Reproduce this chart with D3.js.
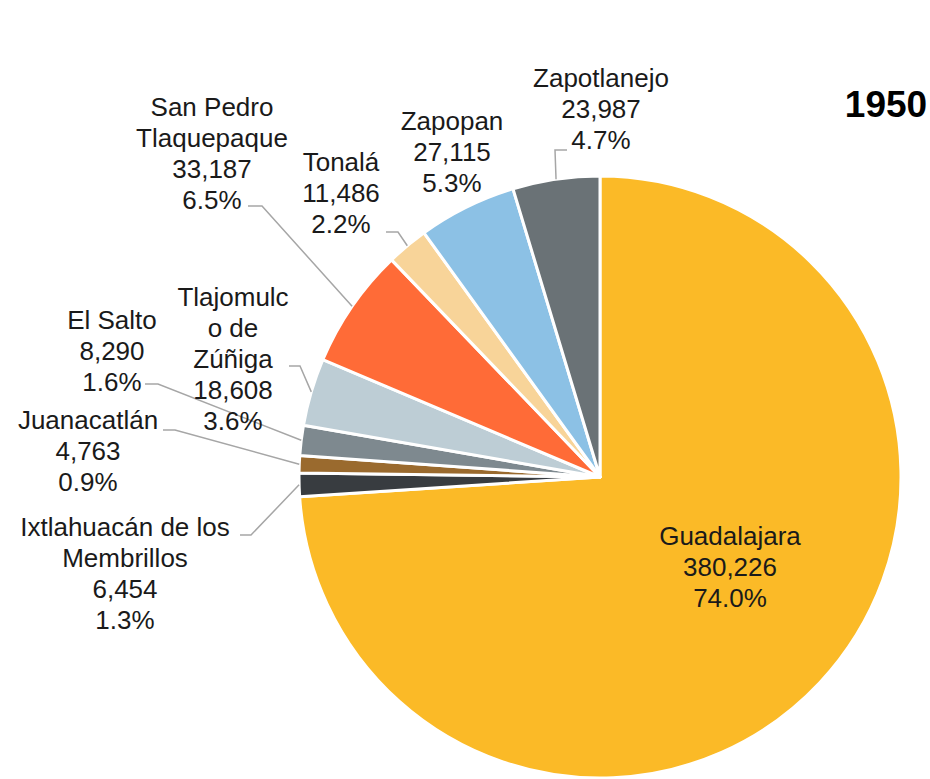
<!DOCTYPE html>
<html><head><meta charset="utf-8">
<script src="https://cdn.jsdelivr.net/npm/d3@7"></script>
<style>body{margin:0;background:#fff}svg{display:block}</style>
</head><body>
<svg id="c" width="930" height="779"></svg>
<script>
const names = ["Guadalajara","Ixtlahuacán de los Membrillos","Juanacatlán","El Salto","Tlajomulco de Zúñiga","San Pedro Tlaquepaque","Tonalá","Zapopan","Zapotlanejo"];
const values = [380226, 6454, 4763, 8290, 18608, 33187, 11486, 27115, 23987];
const percents = ["74.0%","1.3%","0.9%","1.6%","3.6%","6.5%","2.2%","5.3%","4.7%"];
const valueLabels = ["380,226","6,454","4,763","8,290","18,608","33,187","11,486","27,115","23,987"];
const title = "1950";

// layout (not data)
const colors = ["#FBBA27","#383C40","#9A6A2E","#7E898F","#BDCDD5","#FF6B37","#F8D499","#8CC1E5","#6A7276"];
const nameLines = [["Guadalajara"],["Ixtlahuacán de los","Membrillos"],["Juanacatlán"],["El Salto"],["Tlajomulc","o de","Zúñiga"],["San Pedro","Tlaquepaque"],["Tonalá"],["Zapopan"],["Zapotlanejo"]];
const labelPos = [[730,536],[125,527],[88,420],[112,320],[233,297],[212,107],[341,162],[452,121],[601,78]];
// leader start points (label side): [x0,y,x1] horizontal from x0 to x1 at y
const leaderStart = [null,[240,535,251],[163,430,175],[145,384,158],[289,366,300],[248,206,262],[386,232,398],null,[567,150,555]];

const cx = 600, cy = 477, R = 301;
const svg = d3.select("#c");
const g = svg.append("g").attr("transform", `translate(${cx},${cy})`);
const pie = d3.pie().sort(null).value(d => d)(values);
const arc = d3.arc().innerRadius(0).outerRadius(R);

g.selectAll("path.s").data(pie).join("path")
  .attr("class","s")
  .attr("d", arc)
  .attr("fill", (d,i) => colors[i])
  .attr("stroke", "#fff")
  .attr("stroke-width", 3)
  .attr("stroke-linejoin","round");

// leaders
pie.forEach((d,i) => {
  const ls = leaderStart[i];
  if (!ls) return;
  const a = (d.startAngle + d.endAngle) / 2;
  const px = cx + R * Math.sin(a), py = cy - R * Math.cos(a);
  svg.append("polyline")
    .attr("points", `${ls[0]},${ls[1]} ${ls[2]},${ls[1]} ${px},${py}`)
    .attr("fill","none").attr("stroke","#A6A6A6").attr("stroke-width",1.5);
});

// labels
const lh = 31;
names.forEach((n,i) => {
  const lines = nameLines[i].concat([valueLabels[i], percents[i]]);
  const t = svg.append("text")
    .attr("x", labelPos[i][0]).attr("y", labelPos[i][1])
    .attr("text-anchor","middle")
    .attr("font-family","'Liberation Sans', Arial, sans-serif")
    .attr("font-size", 26)
    .attr("fill","#1a1a1a");
  lines.forEach((l,k) => {
    t.append("tspan").attr("x", labelPos[i][0]).attr("y", labelPos[i][1] + k*lh)
      .attr("dy","0.35em").text(l);
  });
});

svg.append("text").attr("x", 886).attr("y", 104).attr("dy","0.35em")
  .attr("text-anchor","middle")
  .attr("font-family","'Liberation Sans', Arial, sans-serif")
  .attr("font-weight","bold").attr("font-size", 37).attr("fill","#000")
  .text(title);
</script>
</body></html>
